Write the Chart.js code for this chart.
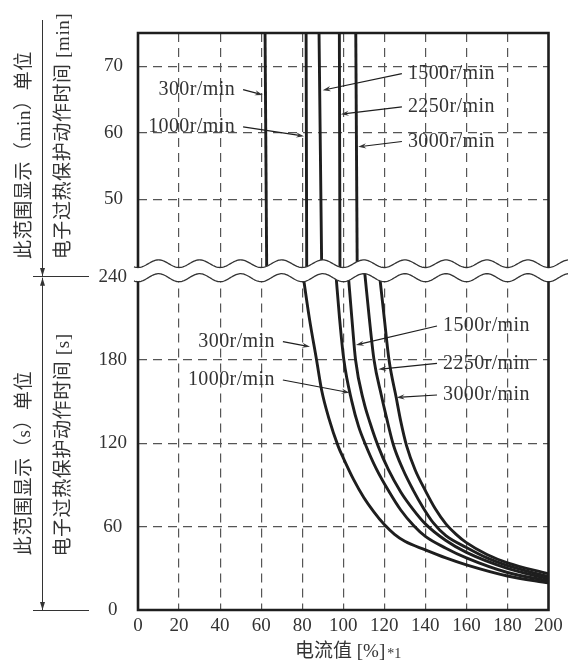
<!DOCTYPE html>
<html>
<head>
<meta charset="utf-8">
<script src="https://cdn.jsdelivr.net/npm/chart.js@4.4.1/dist/chart.umd.min.js"></script>
<style>
  html, body { margin: 0; padding: 0; background: #fff; }
  #wrap { position: relative; width: 568px; height: 663px; overflow: hidden; }
  canvas { position: absolute; left: 0; }
  #topChart { top: 0; }
  #bottomChart { top: 260px; }
</style>
</head>
<body>
<div id="wrap">
  <canvas id="topChart" width="568" height="290"></canvas>
  <canvas id="bottomChart" width="568" height="403"></canvas>
</div>
<script>
const SERIF = "'Liberation Serif', 'Noto Sans CJK SC', serif";
const INK = "#1e1e1e";

const speedLabels = ["300r/min", "1000r/min", "1500r/min", "2250r/min", "3000r/min"];

// tick labels
const currentTicks = [0, 20, 40, 60, 80, 100, 120, 140, 160, 180, 200];
const minTicks = [50, 60, 70];
const secTicks = [0, 60, 120, 180, 240];

// upper panel, time in minutes (nearly vertical lines)
const minTime = [75, 39.7];
const min300 = [61.9, 62.7];
const min1000 = [81.9, 82.2];
const min1500 = [88.2, 89.5];
const min2250 = [98.1, 98.4];
const min3000 = [106.1, 106.8];

// lower panel, time in seconds
const sec300Current = [80.3, 83.5, 87.0, 89.5, 93.0, 97.5, 100, 105, 110, 115, 120, 125, 130, 140, 150, 160, 180, 200];
const sec300Time = [242.3, 210, 180, 158, 138, 118, 109.5, 94, 81, 70.5, 61.5, 54.5, 49.5, 43.3, 37.5, 32.5, 24.5, 19.5];
const sec1000Current = [96.4, 98.2, 100.3, 104.2, 107.5, 111, 116, 122, 128, 134.5, 140, 150, 160, 180, 200];
const sec1000Time = [242.3, 210, 180, 150, 132, 118.5, 102, 86, 72, 60.5, 53, 44.5, 37.5, 27, 21];
const sec1500Current = [102.4, 104.2, 106.0, 110, 113, 117, 122, 128, 134, 140, 150, 160, 180, 200];
const sec1500Time = [242.3, 210, 180, 150, 135, 118, 101, 85, 72.5, 62, 50, 41.5, 30, 22.5];
const sec2250Current = [110.5, 112.7, 115.0, 118.5, 121, 124.4, 129, 134, 139, 144, 150, 160, 170, 180, 200];
const sec2250Time = [242.3, 210, 180, 155, 139, 119, 101.5, 86.5, 73.5, 62.5, 53.5, 45, 37.5, 32, 24];
const sec3000Current = [117.6, 120, 122.3, 125.8, 128, 130.9, 135, 140, 145, 150, 155, 160, 170, 180, 200];
const sec3000Time = [242.3, 210, 180, 153, 136, 118, 101, 86, 72.5, 62, 54.5, 48.5, 40, 34, 26];

// callout labels: text anchor and arrow tip, in data units
const topLabelX = [47.3, 47.3, 131.5, 131.5, 131.5];
const topLabelY = [66.5, 60.9, 68.9, 63.9, 58.7];
const topTipX = [60.8, 80.9, 90.0, 98.8, 107.3];
const topTipY = [65.7, 59.5, 66.4, 62.8, 57.9];
const botLabelX = [66.7, 66.7, 148.6, 148.6, 148.6];
const botLabelY = [193.2, 165.6, 204.5, 177.6, 154.8];
const botTipX = [83.8, 103.0, 106.2, 117.1, 126.0];
const botTipY = [189.6, 156.5, 190.8, 173.3, 153.1];

function pts(xs, ys) {
  return xs.map((v, i) => ({ x: v, y: ys[i] }));
}

function lineSet(data) {
  return {
    data: data,
    borderColor: INK,
    borderWidth: 2.9,
    pointRadius: 0,
    fill: false,
    cubicInterpolationMode: "monotone"
  };
}

function arrow(ctx, sx, sy, ex, ey) {
  const a = Math.atan2(ey - sy, ex - sx);
  const L = 8, W = 2.6;
  const c = Math.cos(a), s = Math.sin(a);
  ctx.beginPath();
  ctx.moveTo(sx, sy);
  ctx.lineTo(ex - L * 0.6 * c, ey - L * 0.6 * s);
  ctx.stroke();
  ctx.beginPath();
  ctx.moveTo(ex, ey);
  ctx.lineTo(ex - L * c + W * s, ey - L * s - W * c);
  ctx.lineTo(ex - L * 0.65 * c, ey - L * 0.65 * s);
  ctx.lineTo(ex - L * c - W * s, ey - L * s + W * c);
  ctx.closePath();
  ctx.fill();
}

function drawLabels(chart, lx, ly, tx, ty) {
  const { ctx, scales: { x, y } } = chart;
  ctx.save();
  ctx.font = "20px " + SERIF;
  ctx.letterSpacing = "0.4px";
  ctx.fillStyle = "#333";
  ctx.strokeStyle = INK;
  ctx.lineWidth = 1.2;
  ctx.textBaseline = "middle";
  speedLabels.forEach((t, i) => {
    const px = x.getPixelForValue(lx[i]);
    const py = y.getPixelForValue(ly[i]);
    const ex = x.getPixelForValue(tx[i]);
    const ey = y.getPixelForValue(ty[i]);
    const onLeft = lx[i] < tx[i];
    ctx.textAlign = onLeft ? "right" : "left";
    ctx.fillText(t, px, py);
    arrow(ctx, onLeft ? px + 8 : px - 6, py, ex, ey);
  });
  ctx.restore();
}

function waveFn(chart, yc, amp) {
  const xs = chart.scales.x;
  const x0 = xs.getPixelForValue(0);
  const P = xs.getPixelForValue(20) - x0;
  return px => yc + amp * Math.cos(2 * Math.PI * (px - x0) / P);
}

function vText(ctx, text, cx, cy) {
  ctx.save();
  ctx.translate(cx, cy);
  ctx.rotate(-Math.PI / 2);
  ctx.textAlign = "center";
  ctx.textBaseline = "middle";
  ctx.fillText(text, 0, 0);
  ctx.restore();
}

function sideArrowHead(ctx, x, y, dir) {
  ctx.beginPath();
  ctx.moveTo(x, y);
  ctx.lineTo(x - 2.5, y - 8 * dir);
  ctx.lineTo(x + 2.5, y - 8 * dir);
  ctx.closePath();
  ctx.fill();
}

const topPlugin = {
  id: "topPanel",
  afterDatasetsDraw(chart) {
    const { ctx, chartArea: a } = chart;
    const f = waveFn(chart, a.bottom - 4.3, 3.8);
    ctx.save();
    // cut the panel along the break line
    ctx.fillStyle = "#fff";
    ctx.beginPath();
    ctx.moveTo(132, f(132));
    for (let px = 132; px <= 568; px++) ctx.lineTo(px, f(px));
    ctx.lineTo(568, a.bottom + 4);
    ctx.lineTo(132, a.bottom + 4);
    ctx.closePath();
    ctx.fill();
    ctx.strokeStyle = "#333";
    ctx.lineWidth = 1.3;
    ctx.beginPath();
    ctx.moveTo(134, f(134));
    for (let px = 134; px <= 568; px++) ctx.lineTo(px, f(px));
    ctx.stroke();
    // frame
    ctx.strokeStyle = INK;
    ctx.lineWidth = 2.6;
    ctx.beginPath();
    ctx.moveTo(a.left, f(a.left));
    ctx.lineTo(a.left, a.top);
    ctx.lineTo(a.right, a.top);
    ctx.lineTo(a.right, f(a.right));
    ctx.stroke();
    ctx.restore();
    drawLabels(chart, topLabelX, topLabelY, topTipX, topTipY);
  },
  afterDraw(chart) {
    const ctx = chart.ctx;
    ctx.save();
    ctx.strokeStyle = "#333";
    ctx.fillStyle = "#333";
    ctx.lineWidth = 1;
    ctx.beginPath();
    ctx.moveTo(42.5, 20);
    ctx.lineTo(42.5, 276);
    ctx.moveTo(33, 276.5);
    ctx.lineTo(89, 276.5);
    ctx.stroke();
    sideArrowHead(ctx, 42.5, 276, 1);
    ctx.font = "19px " + SERIF;
    ctx.letterSpacing = "0.6px";
    vText(ctx, "此范围显示（min）单位", 25, 155);
    vText(ctx, "电子过热保护动作时间 [min]", 64, 136);
    ctx.restore();
  }
};

const bottomPlugin = {
  id: "bottomPanel",
  afterDatasetsDraw(chart) {
    const { ctx, chartArea: a } = chart;
    const f = waveFn(chart, a.top + 4.2, 4);
    ctx.save();
    ctx.fillStyle = "#fff";
    ctx.beginPath();
    ctx.moveTo(132, a.top - 4);
    ctx.lineTo(568, a.top - 4);
    for (let px = 568; px >= 132; px--) ctx.lineTo(px, f(px));
    ctx.closePath();
    ctx.fill();
    ctx.strokeStyle = "#333";
    ctx.lineWidth = 1.3;
    ctx.beginPath();
    ctx.moveTo(134, f(134));
    for (let px = 134; px <= 568; px++) ctx.lineTo(px, f(px));
    ctx.stroke();
    ctx.strokeStyle = INK;
    ctx.lineWidth = 2.6;
    ctx.beginPath();
    ctx.moveTo(a.left, f(a.left));
    ctx.lineTo(a.left, a.bottom);
    ctx.lineTo(a.right, a.bottom);
    ctx.lineTo(a.right, f(a.right));
    ctx.stroke();
    ctx.restore();
    drawLabels(chart, botLabelX, botLabelY, botTipX, botTipY);
  },
  afterDraw(chart) {
    const { ctx, scales: { y } } = chart;
    const yTop = y.getPixelForValue(240);
    const yBot = y.getPixelForValue(0);
    ctx.save();
    ctx.strokeStyle = "#333";
    ctx.fillStyle = "#333";
    ctx.lineWidth = 1;
    ctx.beginPath();
    ctx.moveTo(42.5, yTop + 1);
    ctx.lineTo(42.5, yBot);
    ctx.moveTo(33, yBot + 0.5);
    ctx.lineTo(89, yBot + 0.5);
    ctx.stroke();
    sideArrowHead(ctx, 42.5, yTop + 1, -1);
    sideArrowHead(ctx, 42.5, yBot, 1);
    ctx.font = "19px " + SERIF;
    ctx.letterSpacing = "0.6px";
    vText(ctx, "此范围显示（s）单位", 25, 203);
    vText(ctx, "电子过热保护动作时间 [s]", 64, 185);
    // x axis title
    ctx.letterSpacing = "0px";
    ctx.fillStyle = "#333";
    ctx.textBaseline = "middle";
    ctx.textAlign = "left";
    ctx.font = "19px " + SERIF;
    const title = "电流值 [%]";
    ctx.fillText(title, 295, 392);
    const w = ctx.measureText(title).width;
    ctx.font = "14px " + SERIF;
    ctx.fillText("*1", 295 + w + 2, 394);
    ctx.restore();
  }
};

function gridColor(skip) {
  return c => (c.tick && skip.includes(c.tick.value)) ? "rgba(0,0,0,0)" : "#555";
}

function xScale(showTicks) {
  return {
    type: "linear",
    min: 0,
    max: 200,
    afterBuildTicks: s => { s.ticks = currentTicks.map(v => ({ value: v })); },
    afterFit: s => { s.height = showTicks ? 53 : 0; },
    grid: { color: gridColor([0, 200]), lineWidth: 1.2, drawTicks: false },
    border: { display: false, dash: [9, 6] },
    ticks: {
      display: showTicks,
      autoSkip: false,
      maxRotation: 0,
      padding: 5,
      color: "#333",
      font: { family: SERIF, size: 19 }
    }
  };
}

// fixed-width y axis, no extra padding for the end labels
function fitY(s) {
  s.width = 138;
  s.paddingTop = 0;
  s.paddingBottom = 0;
}

Chart.defaults.animation = false;

new Chart(document.getElementById("topChart"), {
  type: "line",
  data: {
    datasets: [
      lineSet(pts(min300, minTime)),
      lineSet(pts(min1000, minTime)),
      lineSet(pts(min1500, minTime)),
      lineSet(pts(min2250, minTime)),
      lineSet(pts(min3000, minTime))
    ]
  },
  options: {
    responsive: false,
    animation: false,
    layout: { padding: { top: 33, right: 19.5, bottom: 22, left: 0 } },
    plugins: { legend: { display: false }, tooltip: { enabled: false } },
    scales: {
      x: xScale(false),
      y: {
        type: "linear",
        min: 39.7,
        max: 75,
        afterBuildTicks: s => { s.ticks = minTicks.map(v => ({ value: v })); },
        afterFit: fitY,
        grid: { color: "#555", lineWidth: 1.2, drawTicks: false },
        border: { display: false, dash: [9, 6] },
        ticks: { padding: 15, crossAlign: "center", color: "#333", font: { family: SERIF, size: 19 } }
      }
    }
  },
  plugins: [topPlugin]
});

new Chart(document.getElementById("bottomChart"), {
  type: "line",
  data: {
    datasets: [
      lineSet(pts(sec300Current, sec300Time)),
      lineSet(pts(sec1000Current, sec1000Time)),
      lineSet(pts(sec1500Current, sec1500Time)),
      lineSet(pts(sec2250Current, sec2250Time)),
      lineSet(pts(sec3000Current, sec3000Time))
    ]
  },
  options: {
    responsive: false,
    animation: false,
    layout: { padding: { top: 13.5, right: 19.5, bottom: 0, left: 0 } },
    plugins: { legend: { display: false }, tooltip: { enabled: false } },
    scales: {
      x: xScale(true),
      y: {
        type: "linear",
        min: 0,
        max: 242.3,
        afterBuildTicks: s => { s.ticks = secTicks.map(v => ({ value: v })); },
        afterFit: fitY,
        grid: { color: gridColor([0, 240]), lineWidth: 1.2, drawTicks: false },
        border: { display: false, dash: [9, 6] },
        ticks: { padding: 11, crossAlign: "center", color: "#333", font: { family: SERIF, size: 19 } }
      }
    }
  },
  plugins: [bottomPlugin]
});
</script>
</body>
</html>
